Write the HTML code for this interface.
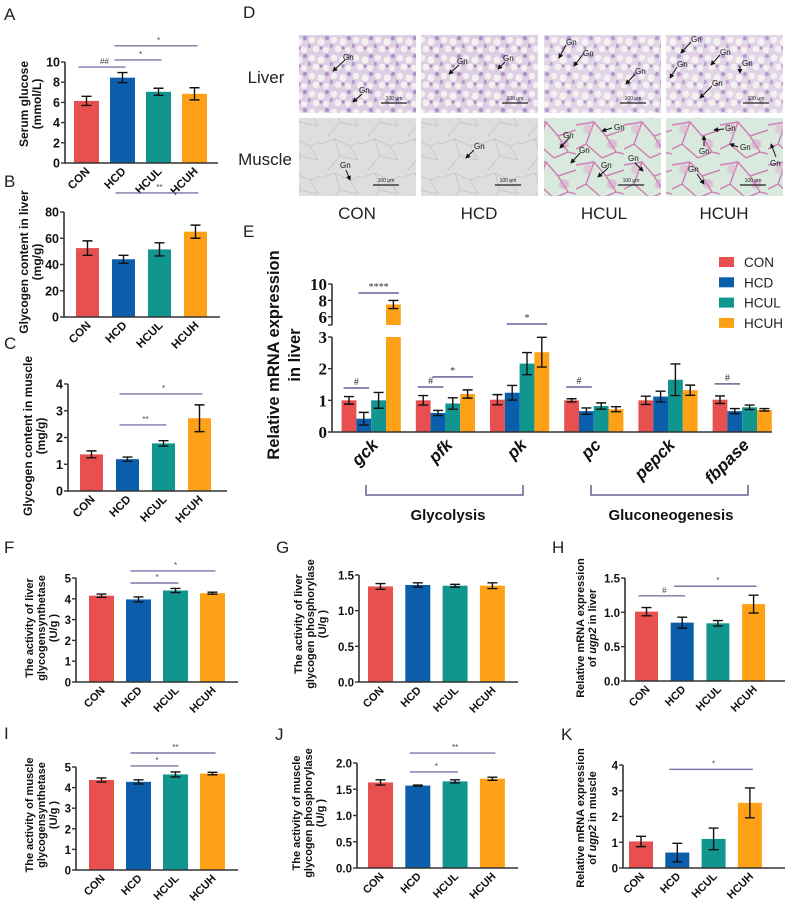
<!DOCTYPE html>
<html><head><meta charset="utf-8"><style>
html,body{margin:0;padding:0;background:#fff}
svg{display:block;font-family:"Liberation Sans",Arial,sans-serif}
</style></head><body>
<svg id="fig" width="788" height="913" viewBox="0 0 788 913" xmlns="http://www.w3.org/2000/svg">
<defs>
<pattern id="liverPat" width="22" height="18" patternUnits="userSpaceOnUse">
<rect width="22" height="18" fill="#ddcfe3"/>
<circle cx="4" cy="4" r="3.2" fill="#f3f0ef"/><circle cx="13" cy="6" r="3.6" fill="#f4f1f0"/>
<circle cx="8" cy="13" r="3.4" fill="#f3f0ef"/><circle cx="18" cy="14" r="3" fill="#f4f1f0"/>
<circle cx="19" cy="2" r="2.2" fill="#b28fc6"/><circle cx="1" cy="10" r="2" fill="#b997cc"/>
<circle cx="13" cy="12" r="1.6" fill="#ad8bc2"/>
</pattern>
<pattern id="muscleGray" width="40" height="34" patternUnits="userSpaceOnUse">
<rect width="40" height="34" fill="#dedddf"/>
<path d="M0 8 L15 3 L30 10 L40 6 M15 3 L20 20 L8 34 M20 20 L38 24 M30 10 L38 24" stroke="#c4c0c6" stroke-width="0.7" fill="none"/>
</pattern>
<pattern id="musclePink" width="48" height="40" patternUnits="userSpaceOnUse">
<rect width="48" height="40" fill="#d9e9de"/>
<path d="M0 5 L18 2 L30 16 L48 10 M18 2 L10 24 L0 29 M10 24 L26 38 M30 16 L40 32 L48 34 M26 38 L40 32" stroke="#c858a8" stroke-width="1.4" fill="none" opacity="0.75"/>
<circle cx="12" cy="9" r="5" fill="#e2a7d2" opacity="0.5"/><circle cx="36" cy="24" r="5" fill="#d98cc4" opacity="0.45"/>
</pattern>
<marker id="arr" viewBox="0 0 6 6" refX="5" refY="3" markerWidth="5" markerHeight="5" orient="auto"><path d="M0 0 L6 3 L0 6z" fill="#111"/></marker>
</defs>

<g font-size="17" fill="#222">
<text x="4" y="20">A</text>
<text x="4" y="187">B</text>
<text x="4" y="349">C</text>
<text x="243" y="18">D</text>
<text x="243" y="237">E</text>
<text x="4" y="553">F</text>
<text x="276" y="553">G</text>
<text x="552" y="553">H</text>
<text x="4" y="739">I</text>
<text x="275" y="740">J</text>
<text x="561" y="740">K</text>
</g>

<g>
<text x="266" y="83" font-size="17" text-anchor="middle" fill="#222">Liver</text>
<text x="265" y="165" font-size="17" text-anchor="middle" fill="#222">Muscle</text>
<rect x="299" y="35" width="117" height="78" fill="url(#liverPat)"/>
<rect x="421" y="35" width="117" height="78" fill="url(#liverPat)"/>
<rect x="544" y="35" width="117" height="78" fill="url(#liverPat)" opacity="0.9"/>
<rect x="666" y="35" width="117" height="78" fill="url(#liverPat)" opacity="0.9"/>
<rect x="299" y="118" width="117" height="78" fill="url(#muscleGray)"/>
<rect x="421" y="118" width="117" height="78" fill="url(#muscleGray)"/>
<rect x="544" y="118" width="117" height="78" fill="url(#musclePink)"/>
<rect x="666" y="118" width="117" height="78" fill="url(#musclePink)"/>
<g stroke="#111" stroke-width="1" marker-end="url(#arr)">
<line x1="345" y1="60" x2="333" y2="71"/><line x1="362" y1="94" x2="353" y2="102"/>
<line x1="459" y1="65" x2="449" y2="74"/><line x1="505" y1="62" x2="498" y2="69"/>
<line x1="566" y1="45" x2="559" y2="58"/><line x1="584" y1="53" x2="574" y2="66"/><line x1="635" y1="74" x2="626" y2="84"/>
<line x1="691" y1="42" x2="681" y2="53"/><line x1="720" y1="55" x2="711" y2="65"/><line x1="740" y1="66" x2="740" y2="73"/><line x1="677" y1="67" x2="670" y2="78"/><line x1="712" y1="86" x2="700" y2="98"/>
<line x1="346" y1="170" x2="350" y2="180"/><line x1="474" y1="150" x2="466" y2="158"/>
<line x1="570" y1="137" x2="560" y2="148"/><line x1="612" y1="128" x2="602" y2="131"/><line x1="580" y1="153" x2="571" y2="163"/><line x1="608" y1="168" x2="598" y2="177"/><line x1="635" y1="163" x2="643" y2="171"/>
<line x1="704" y1="146" x2="704" y2="136"/><line x1="724" y1="129" x2="714" y2="130"/><line x1="738" y1="147" x2="730" y2="144"/><line x1="776" y1="157" x2="771" y2="144"/><line x1="697" y1="174" x2="704" y2="184"/>
</g>
<g font-size="8" fill="#111">
<text x="343" y="60">Gn</text><text x="359" y="93">Gn</text><text x="457" y="64">Gn</text><text x="503" y="61">Gn</text>
<text x="566" y="45">Gn</text><text x="583" y="56">Gn</text><text x="635" y="74">Gn</text>
<text x="691" y="42">Gn</text><text x="720" y="55">Gn</text><text x="742" y="66">Gn</text><text x="677" y="67">Gn</text><text x="712" y="86">Gn</text>
<text x="340" y="168">Gn</text><text x="474" y="149">Gn</text>
<text x="563" y="138">Gn</text><text x="614" y="130">Gn</text><text x="579" y="153">Gn</text><text x="601" y="168">Gn</text><text x="628" y="161">Gn</text>
<text x="699" y="154">Gn</text><text x="725" y="131">Gn</text><text x="740" y="150">Gn</text><text x="770" y="166">Gn</text><text x="688" y="172">Gn</text>
</g>
<g stroke="#222" stroke-width="1.2">
<line x1="381" y1="103" x2="407" y2="103"/><line x1="502" y1="103" x2="528" y2="103"/><line x1="620" y1="103" x2="646" y2="103"/><line x1="743" y1="103" x2="769" y2="103"/>
<line x1="373" y1="185" x2="399" y2="185"/><line x1="495" y1="185" x2="521" y2="185"/><line x1="618" y1="185" x2="644" y2="185"/><line x1="740" y1="185" x2="766" y2="185"/>
</g>
<g font-size="5" fill="#222" text-anchor="middle">
<text x="394" y="100">100 μm</text><text x="515" y="100">100 μm</text><text x="633" y="100">100 μm</text><text x="756" y="100">100 μm</text>
<text x="386" y="182">100 μm</text><text x="508" y="182">100 μm</text><text x="631" y="182">100 μm</text><text x="753" y="182">100 μm</text>
</g>
<g font-size="17" fill="#222" text-anchor="middle">
<text x="357" y="219">CON</text>
<text x="479" y="219">HCD</text>
<text x="604" y="219">HCUL</text>
<text x="724" y="219">HCUH</text>
</g>
</g>
</svg>
<script>
const groups = ['CON','HCD','HCUL','HCUH'];
const aMeans = [6.15, 8.45, 7.05, 6.85];
const aErrs = [0.45, 0.5, 0.35, 0.6];
const aTicks = [0, 2, 4, 6, 8, 10];
const aSigs = [[0,1,9.5,'##'],[1,2,10.2,'*'],[1,3,11.6,'*']];
const bMeans = [52.5, 44, 51.5, 65];
const bErrs = [5.5, 3, 5, 5];
const bTicks = [0, 20, 40, 60, 80];
const bSigs = [[1,3,94.5,'**']];
const cMeans = [1.37, 1.19, 1.78, 2.72];
const cErrs = [0.13, 0.08, 0.1, 0.5];
const cTicks = [0, 1, 2, 3, 4];
const cSigs = [[1,2,2.47,'**'],[1,3,3.63,'*']];
const fMeans = [4.15, 3.97, 4.4, 4.27];
const fErrs = [0.08, 0.12, 0.1, 0.05];
const fTicks = [0, 1, 2, 3, 4, 5];
const fSigs = [[1,2,4.76,'*'],[1,3,5.34,'*']];
const gMeans = [1.34, 1.36, 1.35, 1.35];
const gErrs = [0.04, 0.03, 0.02, 0.04];
const gTicks = ['0.0','0.5','1.0','1.5'];
const gSigs = [];
const hMeans = [1.01, 0.85, 0.84, 1.12];
const hErrs = [0.06, 0.08, 0.04, 0.13];
const hTicks = ['0.0','0.5','1.0','1.5'];
const hSigs = [[0,1,1.24,'#'],[1,3,1.38,'*']];
const iMeans = [4.37, 4.28, 4.64, 4.68];
const iErrs = [0.1, 0.1, 0.12, 0.06];
const iTicks = [0, 1, 2, 3, 4, 5];
const iSigs = [[1,2,5.05,'*'],[1,3,5.68,'**']];
const jMeans = [1.63, 1.57, 1.65, 1.70];
const jErrs = [0.05, 0.01, 0.03, 0.03];
const jTicks = ['0.0','0.5','1.0','1.5','2.0'];
const jSigs = [[1,2,1.83,'*'],[1,3,2.19,'**']];
const kMeans = [1.03, 0.6, 1.13, 2.53];
const kErrs = [0.2, 0.36, 0.42, 0.58];
const kTicks = [0, 1, 2, 3, 4];
const kSigs = [[1,3,3.83,'*']];
const genes = ['gck','pfk','pk','pc','pepck','fbpase'];
const eCON = [1.0, 1.0, 1.02, 1.0, 1.0, 1.02];
const eHCD = [0.42, 0.6, 1.24, 0.66, 1.12, 0.66];
const eHCUL = [1.0, 0.9, 2.16, 0.82, 1.65, 0.78];
const eHCUH = [7.5, 1.2, 2.52, 0.72, 1.32, 0.7];
const eCONerr = [0.12, 0.15, 0.16, 0.05, 0.13, 0.12];
const eHCDerr = [0.2, 0.08, 0.23, 0.1, 0.17, 0.08];
const eHCULerr = [0.25, 0.18, 0.35, 0.1, 0.5, 0.07];
const eHCUHerr = [0.5, 0.13, 0.47, 0.08, 0.16, 0.04];
const eTicksLow = [0, 1, 2, 3];
const eTicksHigh = [6, 8, 10];
const eSigs = [[0,0,1,1.39,'#'],[0,1,3,8.9,'****'],[1,0,1,1.42,'#'],[1,1,3,1.74,'*'],[2,1,3,3.41,'*'],[3,0,1,1.42,'#'],[5,0,1,1.52,'#']];

const colors = ['#e8504f','#0b5eab','#10958f','#fea116'];
const svg = document.getElementById('fig');
const NS = 'http://www.w3.org/2000/svg';
function mk(tag, attrs, parent) {
  const el = document.createElementNS(NS, tag);
  for (const k in attrs) el.setAttribute(k, attrs[k]);
  (parent || svg).appendChild(el);
  return el;
}
function txt(str, attrs, parent) { const t = mk('text', attrs, parent); t.textContent = str; return t; }

function barPanel(id, cfg, means, errs, ticks, sigs) {
  const g = mk('g', {});
  
  
  const vmax = cfg.vmax;
  const y = v => cfg.y0 - v / vmax * (cfg.y0 - cfg.y1);
  const cx = i => cfg.left + i * cfg.step + cfg.w / 2;
  means.forEach((m, i) => {
    const r = mk('rect', {x: cfg.left + i * cfg.step, y: y(m), width: cfg.w, height: cfg.y0 - y(m), fill: colors[i]}, g);
    
    
    const e = errs[i], c = cx(i);
    const eb = mk('path', {d: `M${c} ${y(m - e)}V${y(m + e)}M${c - 5} ${y(m - e)}H${c + 5}M${c - 5} ${y(m + e)}H${c + 5}`, stroke: '#111', 'stroke-width': 1.4, fill: 'none'}, g);
    
    
    const lab = txt(groups[i], {x: c + 4, y: cfg.y0 + 9, 'text-anchor': 'end', 'font-size': cfg.cfs || 11.5, 'font-weight': 'bold', fill: '#111', transform: `rotate(-45 ${c + 4} ${cfg.y0 + 9})`}, g);
    
    
  });
  mk('path', {d: `M${cfg.ax} ${y(vmax)}V${cfg.y0}H${cfg.xend}`, stroke: '#333', 'stroke-width': 1.6, fill: 'none'}, g);
  ticks.forEach(t => {
    const v = parseFloat(t), yy = y(v);
    mk('line', {x1: cfg.ax - 4, x2: cfg.ax, y1: yy, y2: yy, stroke: '#333', 'stroke-width': 1.4}, g);
    const tl = txt(String(t), {x: cfg.ax - 5, y: yy + 4.5, 'text-anchor': 'end', 'font-size': cfg.tfs || 12.5, 'font-weight': 'bold', fill: '#111'}, g);
    
    
  });
  sigs.forEach(s => {
    const yy = y(s[2]);
    mk('line', {x1: cx(s[0]) - 8, x2: cx(s[1]) + 3, y1: yy, y2: yy, stroke: '#7b78a6', 'stroke-width': 1.4}, g);
    const st = txt(s[3], {x: (cx(s[0]) + cx(s[1])) / 2, y: yy - 3, 'text-anchor': 'middle', 'font-size': 8, fill: '#444'}, g);
    
    
  });
  const cy = cfg.ty;
  cfg.title.forEach((line, k) => {
    const tx = cfg.tx[k];
    const tt = txt('', {x: tx, y: cy, 'text-anchor': 'middle', 'font-size': cfg.tts || 12, 'font-weight': 'bold', fill: '#111', transform: `rotate(-90 ${tx} ${cy})`}, g);
    tt.innerHTML = line;
    
    
  });
}

barPanel('a', {ax:65, y0:163, y1:62, vmax:10, xend:218, left:74, step:36, w:25, tx:[28,41], ty:104, title:['Serum glucose','(mmol/L)']}, aMeans, aErrs, aTicks, aSigs);
barPanel('b', {ax:64, y0:317, y1:212, vmax:80, xend:220, left:76, step:36, w:23, tx:[28,41], ty:262, title:['Glycogen content in liver','(mg/g)']}, bMeans, bErrs, bTicks, bSigs);
barPanel('c', {ax:68, y0:491, y1:384, vmax:4, xend:227, left:80, step:36, w:23, tx:[32,45], ty:436, title:['Glycogen content in muscle','(mg/g)']}, cMeans, cErrs, cTicks, cSigs);
const sm = {cfs:11, tfs:11.5, tts:11};
barPanel('f', Object.assign({ax:76, y0:682, y1:578, vmax:5, xend:238, left:89, step:37, w:25, tx:[33,45,57], ty:628, title:['The activity of liver','glycogensynthetase','(U/g )']}, sm), fMeans, fErrs, fTicks, fSigs);
barPanel('g', Object.assign({ax:359, y0:682, y1:575, vmax:1.5, xend:518, left:368, step:37.3, w:25, tx:[302,314,326], ty:624, title:['The activity of liver','glycogen phosphorylase','(U/g )']}, sm), gMeans, gErrs, gTicks, gSigs);
barPanel('h', Object.assign({ax:625, y0:681, y1:578, vmax:1.5, xend:785, left:635, step:35.7, w:23, tx:[584,596], ty:628, title:['Relative mRNA expression','of <tspan font-style="italic">ugp2</tspan> in liver']}, sm), hMeans, hErrs, hTicks, hSigs);
barPanel('i', Object.assign({ax:76, y0:870, y1:767, vmax:5, xend:238, left:89, step:37, w:25, tx:[33,45,57], ty:815, title:['The activity of muscle','glycogensynthetase','(U/g )']}, sm), iMeans, iErrs, iTicks, iSigs);
barPanel('j', Object.assign({ax:357, y0:868, y1:763, vmax:2, xend:518, left:368, step:37.3, w:25, tx:[300,312,324], ty:813, title:['The activity of muscle','glycogen phosphorylase','(U/g )']}, sm), jMeans, jErrs, jTicks, jSigs);
barPanel('k', Object.assign({ax:623, y0:868, y1:765, vmax:4, xend:785, left:629, step:36.3, w:24, tx:[584,596], ty:818, title:['Relative mRNA expression','of <tspan font-style="italic">ugp2</tspan> in muscle']}, sm), kMeans, kErrs, kTicks, kSigs);

(function(){
  const g = mk('g', {});
  
  
  const AX = 332, Y0 = 432, Y3 = 337, BREAK_HI = 325, Y10 = 284;
  const yLow = v => Y0 - v * (Y0 - Y3) / 3;
  const yHigh = v => BREAK_HI - (v - 5) * (BREAK_HI - Y10) / 5;
  const left0 = 341.6, gstep = 74.2, bw = 14.8;
  const series = [eCON, eHCD, eHCUL, eHCUH];
  const errsE = [eCONerr, eHCDerr, eHCULerr, eHCUHerr];
  const bx = (gi, k) => left0 + gi * gstep + k * bw;
  const ysig = v => v > 5 ? yHigh(v) : yLow(v);
  genes.forEach((gene, gi) => {
    series.forEach((arr, k) => {
      const v = arr[gi], e = errsE[k][gi], x = bx(gi, k), c = x + bw / 2;
      if (v <= 3) {
        const r = mk('rect', {x: x, y: yLow(v), width: bw, height: Y0 - yLow(v), fill: colors[k]}, g);
        
        
        mk('path', {d: `M${c} ${yLow(v - e)}V${yLow(v + e)}M${c - 5} ${yLow(v - e)}H${c + 5}M${c - 5} ${yLow(v + e)}H${c + 5}`, stroke: '#111', 'stroke-width': 1.4, fill: 'none'}, g);
      } else {
        const r = mk('rect', {x: x, y: Y3, width: bw, height: Y0 - Y3, fill: colors[k]}, g);
        
        
        mk('rect', {x: x, y: yHigh(v), width: bw, height: BREAK_HI - yHigh(v), fill: colors[k]}, g);
        mk('path', {d: `M${c} ${yHigh(v - e)}V${yHigh(v + e)}M${c - 5} ${yHigh(v - e)}H${c + 5}M${c - 5} ${yHigh(v + e)}H${c + 5}`, stroke: '#111', 'stroke-width': 1.4, fill: 'none'}, g);
      }
    });
    const gc = bx(gi, 2);
    const lab = txt(gene, {x: gc + 8, y: 446, 'text-anchor': 'end', 'font-size': 17, 'font-weight': 'bold', 'font-style': 'italic', fill: '#111', transform: `rotate(-45 ${gc + 8} 446)`}, g);
    
    
  });
  mk('path', {d: `M${AX} ${Y3}V${Y0}H772M${AX} ${Y10}V${BREAK_HI}`, stroke: '#333', 'stroke-width': 1.6, fill: 'none'}, g);
  const tickE = (v, yy) => {
    mk('line', {x1: AX - 4, x2: AX, y1: yy, y2: yy, stroke: '#333', 'stroke-width': 1.4}, g);
    const t = txt(String(v), {x: AX - 5, y: yy + 6, 'text-anchor': 'end', 'font-size': 17, 'font-weight': 'bold', 'font-family': '"Liberation Serif",serif', fill: '#111'}, g);
    
    
  };
  eTicksLow.forEach(v => tickE(v, yLow(v)));
  eTicksHigh.forEach(v => tickE(v, yHigh(v)));
  mk('line', {x1: AX - 4, x2: AX, y1: BREAK_HI, y2: BREAK_HI, stroke: '#333', 'stroke-width': 1.4}, g);
  eSigs.forEach(s => {
    const yy = ysig(s[3]);
    const x1 = bx(s[0], s[1]) + 2, x2 = bx(s[0], s[2]) + bw - 2;
    mk('line', {x1: x1, x2: x2, y1: yy, y2: yy, stroke: '#7b78a6', 'stroke-width': 1.8}, g);
    const st = txt(s[4], {x: (x1 + x2) / 2, y: yy - 3, 'text-anchor': 'middle', 'font-size': 10, 'font-family': '"Liberation Serif",serif', fill: '#333'}, g);
    
    
  });
  [['Relative mRNA expression', 279], ['in liver', 300]].forEach(([s, x]) => {
    const t = txt(s, {x: x, y: 355, 'text-anchor': 'middle', 'font-size': 16.5, 'font-weight': 'bold', fill: '#111', transform: `rotate(-90 ${x} 355)`}, g);
    
    
  });
  mk('path', {d: 'M366 485V495H523V485M591 485V495H748V485', stroke: '#7b78a6', 'stroke-width': 1.8, fill: 'none'}, g);
  const g1 = txt('Glycolysis', {x: 448, y: 520, 'text-anchor': 'middle', 'font-size': 15, 'font-weight': 'bold', fill: '#111'}, g);
  
  
  const g2 = txt('Gluconeogenesis', {x: 671, y: 520, 'text-anchor': 'middle', 'font-size': 15, 'font-weight': 'bold', fill: '#111'}, g);
  
  
  const lg = mk('g', {}, g);
  
  
  groups.forEach((name, k) => {
    const yy = 262 + k * 20.3;
    mk('rect', {x: 719, y: yy - 5, width: 15, height: 10, fill: colors[k]}, lg);
    const t = txt(name, {x: 744, y: yy + 5, 'font-size': 13.5, fill: '#222'}, lg);
    
    
  });
})();
</script>
</body></html>
